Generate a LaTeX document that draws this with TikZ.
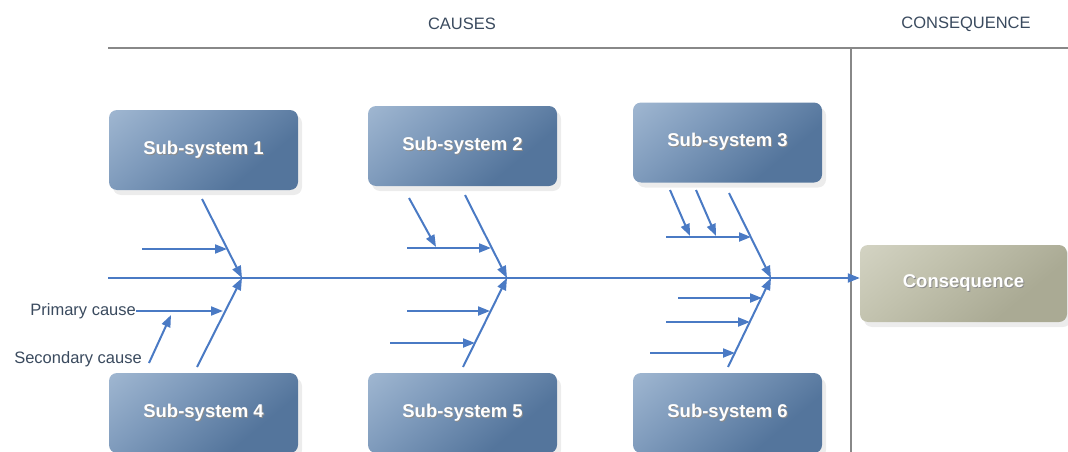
\documentclass[tikz,border=0pt]{standalone}
\usepackage{fontspec}
\setmainfont{Liberation Sans}
\usetikzlibrary{arrows.meta,shadows}

\definecolor{bonecol}{HTML}{4A7AC4}
\definecolor{rulecol}{HTML}{888888}
\definecolor{labelcol}{HTML}{3A4A5E}
\definecolor{sslight}{HTML}{B4C8DE}
\definecolor{ssmid}{HTML}{7F9BBC}
\definecolor{ssdark}{HTML}{54759C}
\definecolor{cslight}{HTML}{DEDED0}
\definecolor{csmid}{HTML}{C2C2AE}
\definecolor{csdark}{HTML}{AAAA94}

% box fills: light in the upper corner, fading to a dark lower corner
\pgfdeclareverticalshading{subsysfill}{100bp}{color(0bp)=(ssdark); color(32bp)=(ssdark); color(62bp)=(ssmid); color(100bp)=(sslight)}
\pgfdeclareverticalshading{conseqfill}{100bp}{color(0bp)=(csdark); color(32bp)=(csdark); color(62bp)=(csmid); color(100bp)=(cslight)}

% white label with a soft dark offset copy behind it
\newcommand{\boxlabel}[1]{\leavevmode\rlap{\kern1pt\raisebox{-1pt}{\textcolor{black!45}{#1}}}\textcolor{white}{#1}}

\tikzset{
  subsys/.style={rounded corners=8pt, minimum width=189pt, minimum height=80pt,
    inner sep=0pt, shading=subsysfill, shading angle=40,
    drop shadow={shadow xshift=4pt, shadow yshift=-5pt, opacity=0.12, fill=black!60},
    font=\bfseries\fontsize{18.5}{22}\selectfont},
  conseq/.style={rounded corners=8pt, minimum width=207pt, minimum height=77pt,
    inner sep=0pt, shading=conseqfill, shading angle=40,
    drop shadow={shadow xshift=4pt, shadow yshift=-5pt, opacity=0.12, fill=black!60},
    font=\bfseries\fontsize{18.5}{22}\selectfont},
  bonearrow/.style={draw=bonecol, line width=2pt,
    -{Triangle[length=12pt,width=9pt]}},
  rulerline/.style={draw=rulecol, line width=2.6pt},
  plainlabel/.style={text=labelcol, font=\fontsize{16.5}{19}\selectfont, inner sep=0pt},
}

\begin{document}
\begin{tikzpicture}[x=1pt,y=-1pt]
\useasboundingbox (0,0) rectangle (1068,452);

% header
\node[plainlabel] (hcauses) at (462,24) {CAUSES};
\node[plainlabel] (hconseq) at (966,24) {CONSEQUENCE};
\coordinate (rl) at (108,48);
\coordinate (rr) at (1068,48);
\coordinate (vt) at (851,48);
\coordinate (vb) at (851,452);
\draw[rulerline] (rl) -- (rr);
\draw[rulerline] (vt) -- (vb);

% sub-system boxes
\node[subsys] (ss1) at (203.5,150) {\boxlabel{Sub-system 1}};
\node[subsys] (ss2) at (462.5,146) {\boxlabel{Sub-system 2}};
\node[subsys] (ss3) at (727.5,142.5) {\boxlabel{Sub-system 3}};
\node[subsys] (ss4) at (203.5,413) {\boxlabel{Sub-system 4}};
\node[subsys] (ss5) at (462.5,413) {\boxlabel{Sub-system 5}};
\node[subsys] (ss6) at (727.5,413) {\boxlabel{Sub-system 6}};
\node[conseq] (cons) at (963.5,283.5) {\boxlabel{Consequence}};

% spine, kept horizontal up to the consequence box
\coordinate (spine) at (108,278);
\draw[bonearrow] (spine) -- (spine -| cons.west);

% junctions on the spine
\coordinate (j1) at (242,278);
\coordinate (j2) at (507,278);
\coordinate (j3) at (771,278);

% ---- sub-system 1 / 4
\coordinate (u1s) at (202,199);
\coordinate (l1s) at (197,367);
\draw[bonearrow] (u1s) -- (j1);
\draw[bonearrow] (l1s) -- (j1);
\coordinate (h1a) at (142,249);
\coordinate (h1b) at (227,249);
\draw[bonearrow] (h1a) -- (h1b);
\node[plainlabel, anchor=east] (pc) at (136,311) {Primary cause};
\coordinate (h1d) at (223,311);
\draw[bonearrow] (pc.east) -- (h1d);
\node[plainlabel, anchor=east] (sc) at (142,359) {Secondary cause};
\coordinate (s1s) at (149,363);
\coordinate (s1e) at (171,315);
\draw[bonearrow] (s1s) -- (s1e);

% ---- sub-system 2 / 5
\coordinate (u2s) at (465,195);
\coordinate (l2s) at (463,367);
\draw[bonearrow] (u2s) -- (j2);
\draw[bonearrow] (l2s) -- (j2);
\coordinate (h2a) at (407,248);
\coordinate (h2b) at (491,248);
\draw[bonearrow] (h2a) -- (h2b);
\coordinate (a2s) at (409,198);
\coordinate (a2e) at (436,247);
\draw[bonearrow] (a2s) -- (a2e);
\coordinate (h2c) at (407,311);
\coordinate (h2d) at (490,311);
\draw[bonearrow] (h2c) -- (h2d);
\coordinate (h2e) at (390,343);
\coordinate (h2f) at (475,343);
\draw[bonearrow] (h2e) -- (h2f);

% ---- sub-system 3 / 6
\coordinate (u3s) at (729,193);
\coordinate (l3s) at (728,367);
\draw[bonearrow] (u3s) -- (j3);
\draw[bonearrow] (l3s) -- (j3);
\coordinate (h3a) at (666,237);
\coordinate (h3b) at (751,237);
\draw[bonearrow] (h3a) -- (h3b);
\coordinate (a3s) at (670,190);
\coordinate (a3e) at (690,236);
\draw[bonearrow] (a3s) -- (a3e);
\coordinate (a3t) at (696,190);
\coordinate (a3f) at (716,236);
\draw[bonearrow] (a3t) -- (a3f);
\coordinate (h3c) at (678,298);
\coordinate (h3d) at (762,298);
\draw[bonearrow] (h3c) -- (h3d);
\coordinate (h3e) at (666,322);
\coordinate (h3f) at (750,322);
\draw[bonearrow] (h3e) -- (h3f);
\coordinate (h3g) at (650,353);
\coordinate (h3h) at (735,353);
\draw[bonearrow] (h3g) -- (h3h);
\end{tikzpicture}
\end{document}
